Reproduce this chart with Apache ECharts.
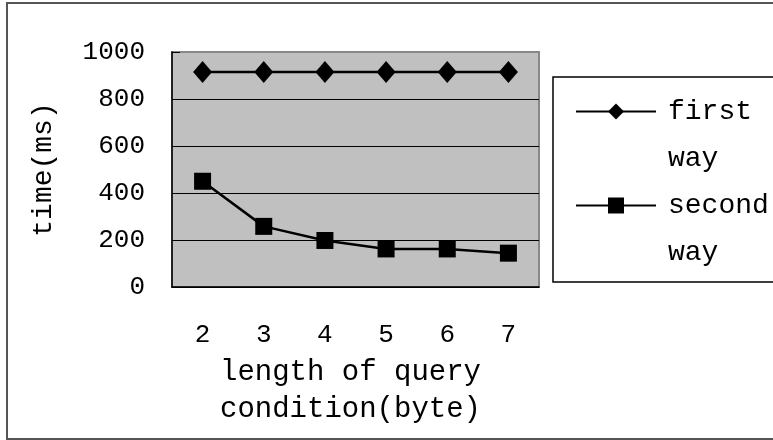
<!DOCTYPE html>
<html>
<head>
<meta charset="utf-8">
<script src="https://cdn.jsdelivr.net/npm/echarts@6/dist/echarts.min.js"></script>
<style>
  html, body { margin: 0; padding: 0; background: #fff; }
  #chart { width: 773px; height: 440px; }
</style>
</head>
<body>
<div id="chart"></div>
<script>
const categories = ['2', '3', '4', '5', '6', '7'];
const firstWay = [915, 915, 915, 915, 915, 915];
const secondWay = [450, 258, 198, 162, 162, 144];
const seriesNames = ['first way', 'second way'];
const yTicks = { min: 0, max: 1000, interval: 200 };
const xTitle = 'length of query\ncondition(byte)';
const yTitle = 'time(ms)';

const FONT = 'Liberation Mono';
const chart = echarts.init(document.getElementById('chart'), null, { renderer: 'canvas' });

function legendFor(name, top) {
  return {
    data: [name],
    orient: 'vertical',
    left: 575,
    top: top,
    padding: 0,
    itemWidth: 80,
    itemHeight: 20,
    formatter: n => ' \n' + n.split(' ').join('\n'),
    textStyle: {
      fontFamily: FONT, fontSize: 28, lineHeight: 47, color: '#000',
      padding: [0, 0, 0, 7]
    },
    selectedMode: false
  };
}

chart.setOption({
  animation: false,
  backgroundColor: '#fff',
  graphic: [
    { type: 'rect', z: -10, shape: { x: 7, y: 3, width: 790, height: 436 },
      style: { fill: '#fff', stroke: '#555', lineWidth: 2 } },
    { type: 'rect', z: -5, shape: { x: 553, y: 77, width: 240, height: 205 },
      style: { fill: '#fff', stroke: '#000', lineWidth: 1.5 } }
  ],
  grid: {
    left: 172, top: 52, right: 234, bottom: 153,
    show: true, backgroundColor: '#c0c0c0', borderColor: '#888', borderWidth: 2
  },
  legend: [legendFor(seriesNames[0], 41), legendFor(seriesNames[1], 135)],
  xAxis: {
    type: 'category',
    data: categories,
    boundaryGap: true,
    axisLine: { lineStyle: { color: '#000', width: 1.5 } },
    axisTick: { inside: true, length: 6, lineStyle: { color: '#000' } },
    axisLabel: { fontFamily: FONT, fontSize: 26, lineHeight: 26, color: '#000', margin: 35 },
    name: xTitle,
    nameLocation: 'middle',
    nameGap: 67,
    nameTextStyle: { fontFamily: FONT, fontSize: 29, lineHeight: 37, color: '#000', padding: [0, 10, 0, 0] }
  },
  yAxis: {
    type: 'value',
    min: yTicks.min, max: yTicks.max, interval: yTicks.interval,
    axisLine: { show: true, lineStyle: { color: '#000', width: 1.5 } },
    axisTick: { show: true, inside: true, length: 8, lineStyle: { color: '#000' } },
    axisLabel: { fontFamily: FONT, fontSize: 26, color: '#000', margin: 27, formatter: v => String(v) },
    splitLine: { show: true, lineStyle: { color: ['#000', '#000', '#000', '#000', '#000', '#888'], width: 1.2 } },
    name: yTitle,
    nameLocation: 'middle',
    nameRotate: 90,
    nameGap: 114,
    nameTextStyle: { fontFamily: FONT, fontSize: 28, color: '#000' }
  },
  series: [
    {
      name: seriesNames[0], type: 'line', data: firstWay,
      symbol: 'diamond', symbolSize: [19, 22],
      itemStyle: { color: '#000' },
      lineStyle: { color: '#000', width: 2.5 }
    },
    {
      name: seriesNames[1], type: 'line', data: secondWay,
      symbol: 'rect', symbolSize: 17,
      itemStyle: { color: '#000' },
      lineStyle: { color: '#000', width: 2.5 }
    }
  ]
});
</script>
</body>
</html>
